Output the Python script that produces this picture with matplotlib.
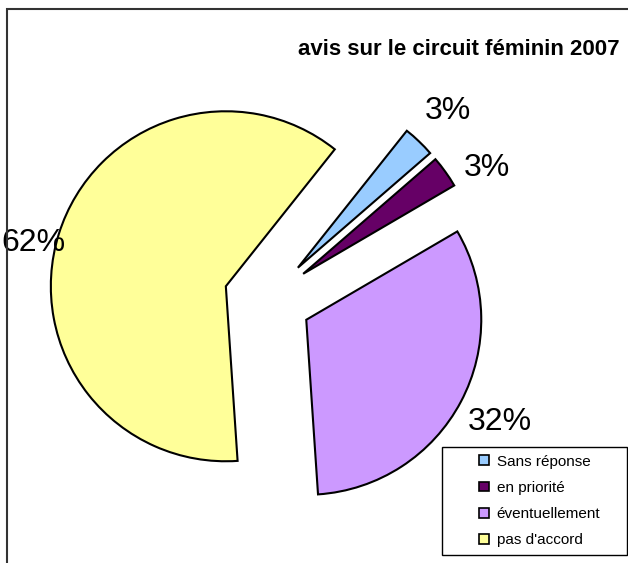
"""Pie chart: avis sur le circuit féminin 2007."""

import numpy as np
import matplotlib
matplotlib.use("Agg")
import matplotlib.pyplot as plt
from matplotlib.patches import Rectangle
from matplotlib.legend_handler import HandlerPatch

plt.rcParams["font.family"] = ["Liberation Sans", "DejaVu Sans"]

# Survey answers (number of replies)
categories = ["Sans réponse", "en priorité", "éventuellement", "pas d'accord"]
counts = [1, 1, 11, 21]
colors = ["#99CCFF", "#660066", "#CC99FF", "#FFFF99"]
title = "avis sur le circuit féminin 2007"

# Layout (pixels of the 628x563 output)
W, H = 628, 563
R_PX = 175.0            # pie radius
CX, CY = 267.6, 299.3   # pie centre, measured from the top-left corner
label_dist = [1.24, 1.21, 1.25, 1.13]   # percent label distance, in radii
label_turn = [0.0, -5.7, 0.0, 4.6]      # degrees off the wedge bisector


def square_handle(legend, orig_handle, xdescent, ydescent, width, height, fontsize):
    # small square at the right end of the handle box (Excel-like legend key)
    s = 0.65 * fontsize
    return Rectangle((-xdescent + width - s, -ydescent + (height - s) / 2), s, s)


fig = plt.figure(figsize=(W / 100, H / 100), dpi=100)
ax = fig.add_axes([0, 0, 1, 1])

wedges, texts, autotexts = ax.pie(
    counts,
    colors=colors,
    startangle=51.5,
    counterclock=False,
    explode=[0.25] * len(counts),
    autopct="%.0f%%",
    pctdistance=1.23,
    wedgeprops=dict(edgecolor="black", linewidth=1.5),
    textprops=dict(fontsize=23, color="black"),
)

# Put the percent labels where the original has them
for w, t, d, turn in zip(wedges, autotexts, label_dist, label_turn):
    ang = np.deg2rad((w.theta1 + w.theta2) / 2 + turn)
    t.set_position((w.center[0] + d * np.cos(ang), w.center[1] + d * np.sin(ang)))
    t.set_ha("center")
    t.set_va("center")

ax.set_xlim(-CX / R_PX, (W - CX) / R_PX)
ax.set_ylim(-(H - CY) / R_PX, CY / R_PX)
ax.set_aspect("equal")
ax.axis("off")

fig.text(459 / W, 1 - 49.5 / H, title, ha="center", va="center",
         fontsize=16, fontweight="bold")

handles = [Rectangle((0, 0), 1, 1, facecolor=c, edgecolor="black", linewidth=1.2)
           for c in colors]
leg = fig.legend(
    handles, categories,
    loc="upper left",
    bbox_to_anchor=(442 / W, 8 / H, 185 / W, 108 / H),
    mode="expand",
    borderaxespad=0,
    fontsize=11,
    handlelength=2.58,
    handleheight=0.7,
    handletextpad=0.5,
    labelspacing=0.8,
    borderpad=0.5,
    fancybox=False,
    framealpha=1,
    edgecolor="black",
    handler_map={Rectangle: HandlerPatch(patch_func=square_handle)},
)
leg.get_frame().set_linewidth(1.0)

# chart area border (right and bottom edges fall outside the picture)
fig.add_artist(Rectangle((7 / W, -0.05), 1.1, (H - 9) / H + 0.05,
                         transform=fig.transFigure, fill=False,
                         edgecolor="#333333", linewidth=1.5))

fig.savefig("out.png", dpi=100)
